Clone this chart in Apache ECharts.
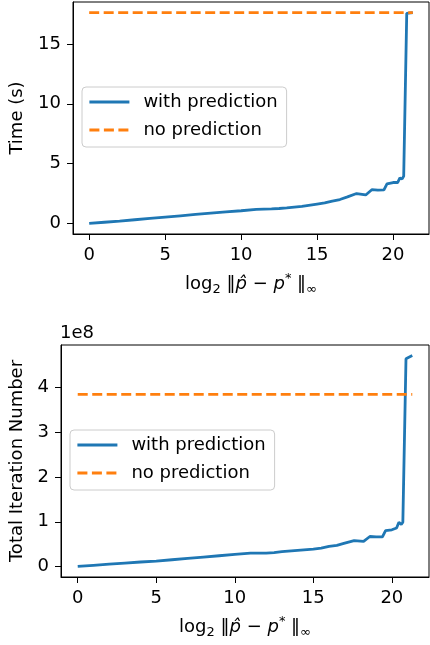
<!DOCTYPE html>
<html>
<head>
<meta charset="utf-8">
<script src="https://cdn.jsdelivr.net/npm/echarts@6/dist/echarts.min.js"></script>
<style>
html,body{margin:0;padding:0;background:#fff;}
#c{width:430px;height:645px;}
</style>
</head>
<body>
<div id="c"></div>
<script>
// shared x values: log2 ||p_hat - p*||_inf
const xVals = [0,1,2,3,4,5,6,7,8,9,10,11,12,12.5,13,14,15,15.5,16,16.5,17,17.6,18.2,18.6,19.0,19.4,19.6,20.0,20.3,20.45,20.6,20.7,20.8,20.9,21.3];
// Time (s) with prediction
const timeWith = [0,0.1,0.2,0.31,0.42,0.53,0.64,0.75,0.86,0.96,1.06,1.18,1.22,1.25,1.3,1.42,1.62,1.72,1.87,2.0,2.22,2.5,2.38,2.82,2.78,2.8,3.3,3.42,3.42,3.8,3.72,3.95,3.9,17.55,17.62];
// Time (s) without prediction (constant)
const timeNo = 17.62;
// Total iteration number with prediction
const iterWith = [0,2.5e6,5e6,7.5e6,1.0e7,1.2e7,1.5e7,1.8e7,2.1e7,2.4e7,2.7e7,3.0e7,3.0e7,3.1e7,3.3e7,3.6e7,3.9e7,4.1e7,4.5e7,4.7e7,5.2e7,5.8e7,5.6e7,6.7e7,6.6e7,6.6e7,8.0e7,8.2e7,8.6e7,9.9e7,9.4e7,9.9e7,9.7e7,4.65e8,4.72e8];
// Total iteration number without prediction (constant)
const iterNo = 3.85e8;
// tick labels
const xTicks = [0,5,10,15,20];
const timeTicks = [0,5,10,15];
const iterTicks = [0,1e8,2e8,3e8,4e8];
const seriesNames = ['with prediction','no prediction'];

const FONT = 'DejaVu Sans';
const blue = '#1f77b4', orange = '#ff7f0e';
const xMin = 0, xMax = xVals[xVals.length-1];
const xPad = (xMax - xMin) * 0.05;

function pairs(xs, ys){ return xs.map((x,i)=>[x, ys[i]]); }

const xName = '{n|log}{sub|2}{n| ‖}{it|p̂}{n| − }{it|p}{sup|*}{n| ‖}{sub|∞}';
const xNameRich = {
  n:{fontFamily:FONT,fontSize:18,color:'#000',lineHeight:24,verticalAlign:'middle'},
  it:{fontFamily:FONT,fontSize:18,fontStyle:'italic',color:'#000',lineHeight:24,verticalAlign:'middle'},
  sub:{fontFamily:FONT,fontSize:13,color:'#000',lineHeight:13,verticalAlign:'bottom'},
  sup:{fontFamily:FONT,fontSize:13,color:'#000',lineHeight:13,verticalAlign:'top'}
};

function xAxisCfg(gi){
  return {
    gridIndex:gi, type:'value', min:xMin - xPad, max:xMax + xPad,
    name:xName, nameLocation:'middle', nameGap:38,
    nameTextStyle:{rich:xNameRich},
    axisLine:{show:true,onZero:false,lineStyle:{color:'#000',width:1}},
    axisTick:{show:true,length:6,customValues:xTicks,lineStyle:{color:'#000',width:1}},
    axisLabel:{customValues:xTicks,margin:12,fontFamily:FONT,fontSize:18,color:'#000'},
    splitLine:{show:false}
  };
}
function yAxisCfg(gi, dataMax, ticks, name, gap, fmt){
  const pad = dataMax*0.05;
  return {
    gridIndex:gi, type:'value', min:-pad, max:dataMax+pad,
    name:name, nameLocation:'middle', nameGap:gap,
    nameTextStyle:{fontFamily:FONT,fontSize:18,color:'#000'},
    axisLine:{show:true,onZero:false,lineStyle:{color:'#000',width:1}},
    axisTick:{show:true,length:6,customValues:ticks,lineStyle:{color:'#000',width:1}},
    axisLabel:{customValues:ticks,margin:12,fontFamily:FONT,fontSize:18,color:'#000',formatter:fmt},
    splitLine:{show:false}
  };
}
function legendCfg(left, top){
  return {
    data:seriesNames, orient:'vertical', left:left, top:top,
    itemWidth:40, itemHeight:14, itemGap:10,
    padding:[6,9,8,6],
    backgroundColor:'rgba(255,255,255,0.8)', borderColor:'#cccccc', borderWidth:1, borderRadius:4,
    itemStyle:{opacity:0},
    lineStyle:{width:2.8},
    textStyle:{fontFamily:FONT,fontSize:18,color:'#000',padding:[0,0,0,9]},
    selectedMode:false
  };
}

const timeMax = Math.max(...timeWith, timeNo);
const iterMax = Math.max(...iterWith, iterNo);

const option = {
  animation:false,
  backgroundColor:'#fff',
  grid:[
    {left:72, right:1, top:2, bottom:411, show:true, borderColor:'#000', borderWidth:1},
    {left:60, right:1, top:345, bottom:68, show:true, borderColor:'#000', borderWidth:1}
  ],
  xAxis:[xAxisCfg(0), xAxisCfg(1)],
  yAxis:[
    yAxisCfg(0, timeMax, timeTicks, 'Time (s)', 47, v=>String(v)),
    yAxisCfg(1, iterMax, iterTicks, 'Total Iteration Number', 35, v=>String(Math.round(v/1e8)))
  ],
  legend:[legendCfg(82,87), legendCfg(70,430)],
  graphic:[{type:'text', left:60, top:324, style:{text:'1e8', fontFamily:FONT, fontSize:18, fill:'#000'}}],
  series:[
    {name:seriesNames[0], type:'line', xAxisIndex:0, yAxisIndex:0, data:pairs(xVals,timeWith), symbol:'none', lineStyle:{color:blue,width:2.8}, itemStyle:{color:blue}},
    {name:seriesNames[1], type:'line', xAxisIndex:0, yAxisIndex:0, data:[[xMin,timeNo],[xMax,timeNo]], symbol:'none', lineStyle:{color:orange,width:2.8,type:[10,4.5]}, itemStyle:{color:orange}},
    {name:seriesNames[0], type:'line', xAxisIndex:1, yAxisIndex:1, data:pairs(xVals,iterWith), symbol:'none', lineStyle:{color:blue,width:2.8}, itemStyle:{color:blue}},
    {name:seriesNames[1], type:'line', xAxisIndex:1, yAxisIndex:1, data:[[xMin,iterNo],[xMax,iterNo]], symbol:'none', lineStyle:{color:orange,width:2.8,type:[10,4.5]}, itemStyle:{color:orange}}
  ]
};
const chart = echarts.init(document.getElementById('c'), null, {renderer:'canvas'});
chart.setOption(option);
</script>
</body>
</html>
